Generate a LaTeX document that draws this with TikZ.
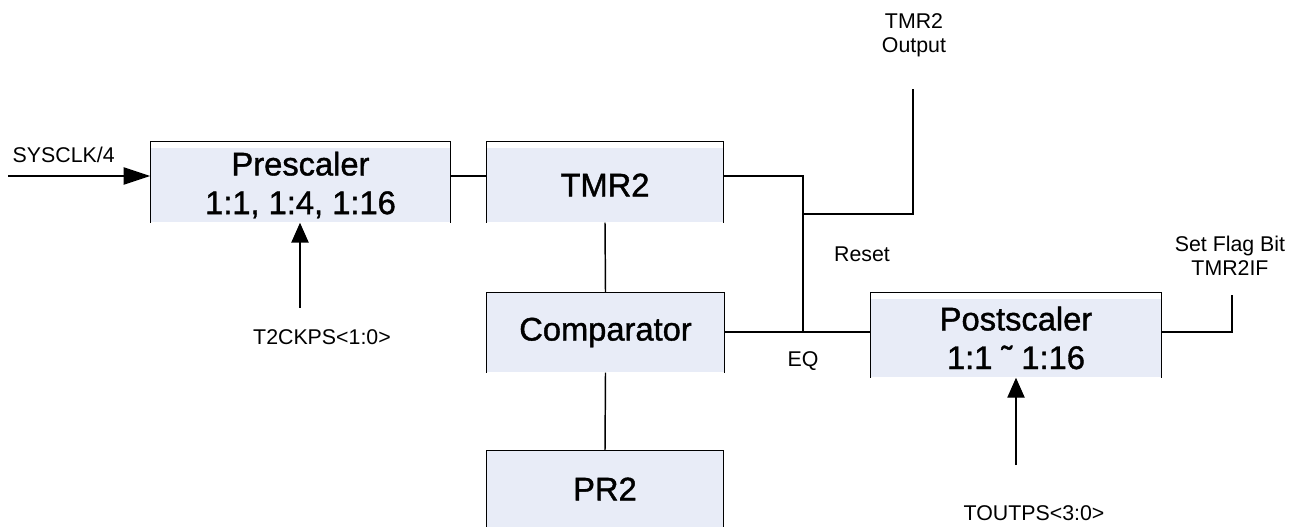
\documentclass[tikz,border=0pt]{standalone}
\usepackage{fontspec}
\setmainfont{Liberation Sans}
\newfontfamily\blockfont[FakeBold=1.2]{Liberation Sans}
\usepackage{xcolor}
\usetikzlibrary{positioning, calc, arrows.meta}

\definecolor{boxblue}{RGB}{232,236,247}

\begin{document}
\begin{tikzpicture}[x=0.75pt, y=-0.75pt, line width=1.1pt,
      blockbox/.style={fill=boxblue, inner sep=0pt, align=center,
        font=\blockfont\fontsize{24.5}{29}\selectfont},
      lbl/.style={inner sep=0pt, align=center, font=\fontsize{16}{18}\selectfont},
      sigarrow/.style={-{Triangle[length=15pt, width=13pt]}}]

      \clip (0,0) rectangle (1289,527);

      % Blocks
      \node[blockbox, minimum width=224.25pt, minimum height=55.5pt] (pre) at (300.5,185) {Prescaler\\1:1, 1:4, 1:16};
      \node[blockbox, minimum width=177pt, minimum height=55.5pt] (tmr) at (605,185) {TMR2};
      \node[blockbox, minimum width=177.75pt, minimum height=59.25pt] (cmp) at (605.5,332.5) {Comparator};
      \node[blockbox, minimum width=177pt, minimum height=57pt] (pr) at (605,489) {PR2};
      \node[blockbox, minimum width=217.5pt, minimum height=58.5pt] (post) at (1016,338) {Postscaler\\1:1 ˜ 1:16};

      % Block edges (open at the bottom)
      \foreach \b/\off in {pre/4.5pt, tmr/4.5pt, cmp/0pt, pr/0pt, post/4.5pt}
        \draw (\b.south west) |- ([yshift=\off]\b.north east) -- (\b.south east);

      % Junctions
      \coordinate (clkin) at (8,176);
      \coordinate (rstjoin) at (803,214);
      \coordinate (eqjoin) at (803,332);
      \coordinate (outend) at (913,89);
      \coordinate (ckps) at (300,308);
      \coordinate (outps) at (1016,465);
      \coordinate (flagend) at (1232,295);

      % Connectors
      \draw[-{Triangle[length=20pt, width=13pt]}] (clkin) -- (clkin -| pre.west);
      \draw ([yshift=6.75pt]pre.east) -- ([yshift=6.75pt]tmr.west);
      \draw ([yshift=6.75pt]tmr.east) -| (eqjoin);
      \draw (rstjoin) -| (outend);
      \draw (tmr.south) -- (cmp.north);
      \draw (cmp.south) -- (pr.north);
      \draw (cmp.east |- eqjoin) -- (eqjoin -| post.west);
      \draw ([yshift=4.5pt]post.east) -| (flagend);
      \draw[sigarrow] (ckps) -- (ckps |- pre.south);
      \draw[sigarrow] (outps) -- (outps |- post.south);

      % Labels
      \node[lbl, anchor=west] (clklbl) at (12,155) {SYSCLK/4};
      \node[lbl] (ckpslbl) at (322,337) {T2CKPS<1:0>};
      \node[lbl] (outlbl) at (914,35) {TMR2\\Output};
      \node[lbl] (rstlbl) at (862,254) {Reset};
      \node[lbl] (eqlbl) at (803,361) {EQ};
      \node[lbl] (flaglbl) at (1230,256) {Set Flag Bit\\TMR2IF};
      \node[lbl] (outpslbl) at (1034,513) {TOUTPS<3:0>};
    \end{tikzpicture}
\end{document}
